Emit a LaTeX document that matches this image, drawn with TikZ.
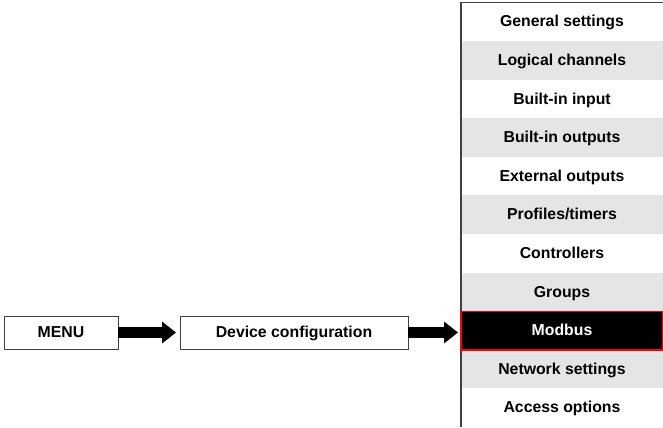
\documentclass[tikz,border=0pt]{standalone}
\usepackage{fontspec}
\setmainfont{Liberation Sans}
\usetikzlibrary{arrows.meta,positioning}
\definecolor{rowgray}{rgb}{0.9,0.9,0.9}
\definecolor{edgegray}{rgb}{0.25,0.25,0.25}

\begin{document}
\begin{tikzpicture}[x=0.02cm,y=-0.02cm,font=\fontsize{9}{11}\selectfont\bfseries,
b/.style={draw=edgegray,line width=0.5pt,inner sep=0pt,outer sep=0pt,minimum height=0.66cm,text height=1.6ex,text depth=0.5ex},
r/.style={inner sep=0pt,outer sep=0pt,minimum width=4.04cm,minimum height=0.772cm,text height=1.6ex,text depth=0.5ex},
g/.style={r,fill=rowgray},
a/.style={-{Triangle[length=0.28cm,width=0.42cm]},line width=0.22cm,black}]
\useasboundingbox (0,0) rectangle (663,427);
\node[b,minimum width=2.28cm] (menu) at (61,332.5) {MENU};
\node[b,minimum width=4.56cm] (dev) at (294,332.5) {Device configuration};
\node[r] (gen) at (562,21.7) {General settings};
\node[g] (log) at (562,60.3) {Logical channels};
\node[r] (bin) at (562,98.9) {Built-in input};
\node[g] (bout) at (562,137.5) {Built-in outputs};
\node[r] (ext) at (562,176.1) {External outputs};
\node[g] (prof) at (562,214.7) {Profiles/timers};
\node[r] (ctrl) at (562,253.3) {Controllers};
\node[g] (grp) at (562,291.9) {Groups};
\node[g] (net) at (562,369.1) {Network settings};
\node[r] (acc) at (562,407.7) {Access options};
\draw[line width=1pt,edgegray] (acc.south west)--(gen.north west)--(gen.north east);
\node[r,fill=black,draw=red,line width=0.8pt,text=white] (mod) at (562,330.5) {Modbus};
\draw[a,shorten >=0.08cm] (menu.east)--(dev.west);
\draw[a,shorten >=0.06cm] (dev.east)--(dev.east-|mod.west);
\end{tikzpicture}
\end{document}
